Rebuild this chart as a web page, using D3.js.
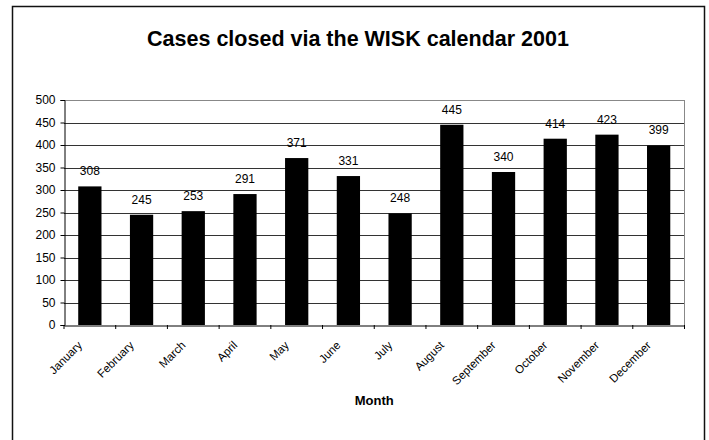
<!DOCTYPE html>
<html><head><meta charset="utf-8">
<script src="https://cdn.jsdelivr.net/npm/d3@7"></script>
<style>body{margin:0;background:#fff;}svg{display:block;font-family:"Liberation Sans",Arial,sans-serif;}</style>
</head><body>
<script>
const months = ["January","February","March","April","May","June","July","August","September","October","November","December"];
const cases = [308,245,253,291,371,331,248,445,340,414,423,399];
const yTicks = [0,50,100,150,200,250,300,350,400,450,500];
const title = "Cases closed via the WISK calendar 2001";
const xTitle = "Month";

const W = 709, H = 440;
const svg = d3.select("body").append("svg").attr("width", W).attr("height", H);

svg.append("rect").attr("x", 12.5).attr("y", 6.5).attr("width", 692).attr("height", 440)
  .attr("fill", "#fff").attr("stroke", "#111").attr("stroke-width", 1.5);

const m = {left: 64, right: 684.5, top: 100, bottom: 325};
const x = d3.scaleBand().domain(months).range([m.left, m.right]).paddingInner(0.55).paddingOuter(0.275);
const xb = d3.scaleBand().domain(months).range([m.left, m.right]).padding(0);
const y = d3.scaleLinear().domain([0, 500]).range([m.bottom, m.top]);

// gridlines
svg.append("g").selectAll("line").data(yTicks.filter(d => d > 0)).join("line")
  .attr("x1", m.left).attr("x2", m.right)
  .attr("y1", d => Math.round(y(d)) + 0.5).attr("y2", d => Math.round(y(d)) + 0.5)
  .attr("stroke", d => d === 500 ? "#888" : "#333").attr("stroke-width", 1);
// right border
svg.append("line").attr("x1", m.right).attr("x2", m.right).attr("y1", m.top).attr("y2", m.bottom)
  .attr("stroke", "#888");

// bars
svg.append("g").selectAll("rect").data(cases).join("rect")
  .attr("x", (d, i) => x(months[i])).attr("width", x.bandwidth())
  .attr("y", d => y(d)).attr("height", d => y(0) - y(d)).attr("fill", "#000");

// value labels
svg.append("g").selectAll("text").data(cases).join("text")
  .attr("x", (d, i) => x(months[i]) + x.bandwidth() / 2)
  .attr("y", d => y(d) - 11)
  .attr("text-anchor", "middle").attr("font-size", 12).attr("fill", "#000")
  .text(d => d);

// y axis
const yAxis = svg.append("g").attr("transform", `translate(${m.left + 0.5},0)`)
  .call(d3.axisLeft(y).tickValues(yTicks).tickSize(4).tickPadding(5).tickFormat(d3.format("d")));
yAxis.select(".domain").attr("stroke", "#000");
yAxis.selectAll(".tick line").attr("stroke", "#000");
yAxis.selectAll("text").attr("font-size", 12).attr("font-family", "Liberation Sans, Arial, sans-serif").attr("fill", "#000");

// x axis
const xAxis = svg.append("g").attr("transform", `translate(0,${m.bottom + 0.5})`)
  .call(d3.axisBottom(xb).tickSize(0).tickFormat(""));
xAxis.select(".domain").attr("stroke", "#000");
svg.append("g").selectAll("line").data(d3.range(months.length + 1)).join("line")
  .attr("x1", i => m.left + i * xb.bandwidth()).attr("x2", i => m.left + i * xb.bandwidth())
  .attr("y1", m.bottom).attr("y2", m.bottom + 4).attr("stroke", "#000");

svg.append("g").selectAll("text").data(months).join("text")
  .attr("transform", d => `translate(${xb(d) + xb.bandwidth() / 2 - 7},${m.bottom + 21}) rotate(-45)`)
  .attr("text-anchor", "end").attr("font-size", 11.5).attr("fill", "#000")
  .text(d => d);

svg.append("text").attr("x", 358).attr("y", 46).attr("text-anchor", "middle")
  .attr("font-size", 21.5).attr("font-weight", "bold").text(title);
svg.append("text").attr("x", (m.left + m.right) / 2).attr("y", 405).attr("text-anchor", "middle")
  .attr("font-size", 13).attr("font-weight", "bold").text(xTitle);
</script>
</body></html>
